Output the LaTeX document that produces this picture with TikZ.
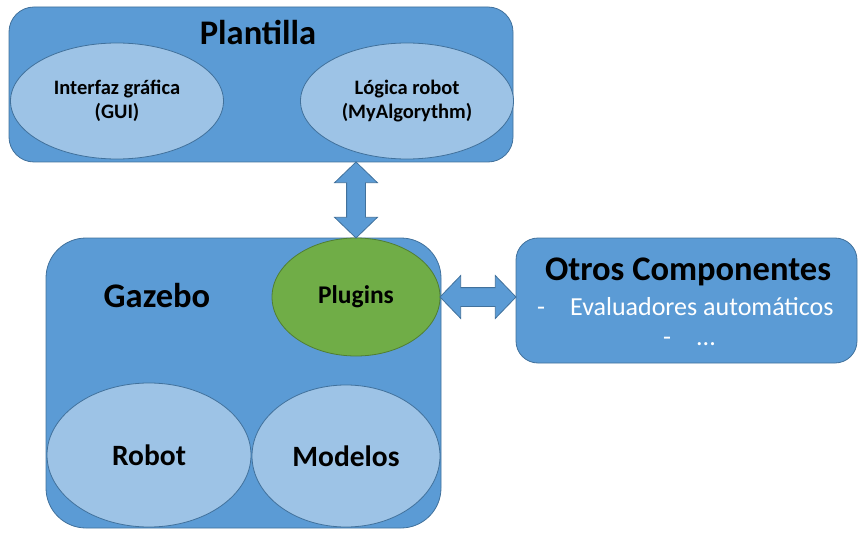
\documentclass[tikz,border=0pt]{standalone}
\usepackage{fontspec}
\setmainfont{Carlito}
\usepackage{tikz}
\usetikzlibrary{arrows}
\usetikzlibrary{shapes}
\usetikzlibrary{positioning}
\usetikzlibrary{calc}
\definecolor{boxblue}{HTML}{5B9BD5}
\definecolor{boxedge}{HTML}{41719C}
\definecolor{partblue}{HTML}{9DC3E6}
\definecolor{plugingreen}{HTML}{70AD47}
\definecolor{pluginedge}{HTML}{507E32}
\tikzset{
  block/.style={rectangle,draw=boxedge,fill=boxblue,line width=0.8,inner sep=0},
  part/.style={ellipse,draw=boxedge,fill=partblue,line width=0.8,inner sep=0,align=center},
  part green/.style={part,draw=pluginedge,fill=plugingreen},
  title/.style={anchor=base,font=\bfseries\fontsize{34.5}{40}\selectfont},
  link arrow/.style={double arrow,draw=boxedge,fill=boxblue,line width=0.8,inner xsep=0,inner ysep=9,
    double arrow head extend=12,double arrow tip angle=92,minimum height=76}
}
\begin{document}
\begin{tikzpicture}[x=1pt,y=-1pt]
  \useasboundingbox (0,0) rectangle (866,537);
  % Plantilla
  \node[block,rounded corners=25,minimum width=504,minimum height=155] (plantilla) at (261,84.5) {};
  \node[title] (plantillaname) at (258,45) {Plantilla};
  \node[part,minimum width=213,minimum height=116,font=\bfseries\fontsize{20.5}{24}\selectfont] (gui) at (117,101) {Interfaz gráfica\\(GUI)};
  \node[part,minimum width=213,minimum height=116,font=\bfseries\fontsize{20.5}{24}\selectfont] (logica) at (407,101) {Lógica robot\\(MyAlgorythm)};
  % Gazebo
  \node[block,rounded corners=40,minimum width=395,minimum height=290] (gazebo) at (243.5,383) {};
  \node[title] (gazeboname) at (157,307) {Gazebo};
  \node[part green,minimum width=168,minimum height=118,font=\bfseries\fontsize{25.5}{30}\selectfont] (plugins) at (356,297) {Plugins};
  \node[part,minimum width=204,minimum height=144,font=\bfseries\fontsize{29.5}{34}\selectfont] (robot) at (149,455) {Robot};
  \node[part,minimum width=188,minimum height=142,font=\bfseries\fontsize{29.5}{34}\selectfont] (modelos) at (346,456) {Modelos};
  % Otros componentes
  \node[block,rounded corners=22,minimum width=341,minimum height=125] (otros) at (686.5,300.5) {};
  \node[title] (otrosname) at (688,280) {Otros Componentes};
  \node[anchor=base west,inner sep=0,white,font=\fontsize{26}{30}\selectfont] (evaluadores) at (537,315) {-\hspace{25pt}Evaluadores automáticos};
  \node[anchor=base west,inner sep=0,white,font=\fontsize{26}{30}\selectfont] (resto) at (663,345) {-\hspace{25pt}...};
  % flechas
  \node[link arrow,rotate=90] (plantillagazebo) at ($(plugins.north)!0.5!(plugins.north |- plantilla.south)$) {};
  \node[link arrow] (pluginsotros) at ($(plugins.east)!0.5!(plugins.east -| otros.west)$) {};
\end{tikzpicture}
\end{document}
